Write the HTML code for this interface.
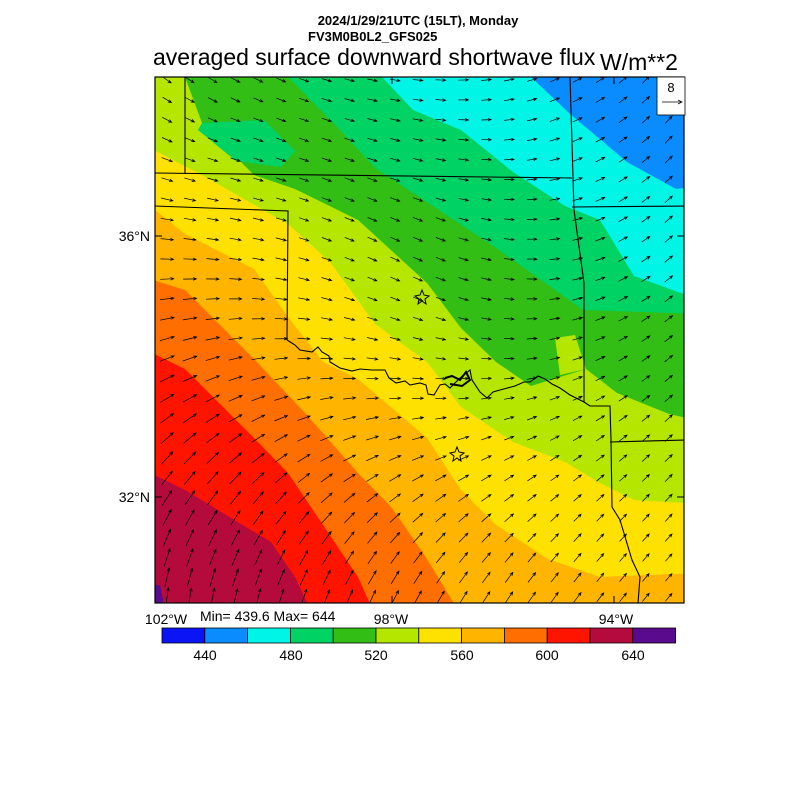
<!DOCTYPE html>
<html><head><meta charset="utf-8"><style>
body{margin:0;background:#fff;}
svg{display:block;font-family:"Liberation Sans",sans-serif;}
</style></head><body>
<svg id="s" width="800" height="800" viewBox="0 0 800 800" xmlns="http://www.w3.org/2000/svg">
<defs><clipPath id="c"><rect x="155" y="77" width="529" height="526"/></clipPath></defs>
<rect width="800" height="800" fill="#fff"/>
<g clip-path="url(#c)">
<rect x="150" y="70" width="540" height="540" fill="#b40a3c"/>
<polygon fill="#5a0a8c" points="150,585 160,585 163,600 162,610 150,610"/>
<polygon fill="#ff1400" points="150,473 185,490 236,521 271,542 295,577 313,615 700,615 700,70 150,70"/>
<polygon fill="#ff6e00" points="150,352 185,369 254,438 288,473 323,525 358,577 375,615 700,615 700,70 150,70"/>
<polygon fill="#ffb400" points="150,279 185,290 219,324 254,359 306,414 358,473 392,508 427,559 461,615 700,615 700,70 150,70"/>
<polygon fill="#ffe100" points="150,206 185,234 254,269 288,317 323,362 358,379 427,438 461,490 496,525 548,559 600,577 700,573 700,70 150,70"/>
<polygon fill="#b4e600" points="150,148 202,175 288,224 330,262 375,324 427,362 461,407 513,442 565,462 600,483 634,500 700,504 700,70 150,70"/>
<polygon fill="#32be14" points="185,70 185,77 202,123 254,175 295,189 358,220 427,283 461,328 496,362 531,386 586,369 617,393 669,414 700,421 700,70"/>
<polygon fill="#b4e600" points="555,338 575,335 586,369 560,375"/>
<polygon fill="#00d264" points="288,70 288,77 340,130 375,168 392,179 496,248 583,310 700,314 700,70"/>
<polygon fill="#00d264" points="202,123 264,120 295,151 281,167 236,161 198,130"/>
<polygon fill="#00f5e6" points="382,70 382,77 413,110 461,130 513,172 565,206 600,220 634,276 700,300 700,70"/>
<polygon fill="#0a8cff" points="531,70 531,77 569,113 627,162 676,189 700,186 700,70"/>
<g id="arr" stroke="#000" stroke-width="0.7" fill="none"></g>
<g stroke="#000" stroke-width="1.1" fill="none">
<polyline points="185,77 185,174"/>
<polyline points="155,173 572,178"/>
<polyline points="570,77 574,210 584,283 584,402"/>
<polyline points="572,207 686,206"/>
<polyline points="155,206 288,211 287,340"/>
<polyline points="287,340 295,345 300,350 312,352 318,347 322,352 329,356 330,362 340,368 352,371 360,369 372,370 385,370 389,378 396,383 405,381 410,385 420,383 426,385 428,394 434,395 440,385 445,384 450,388 460,378 470,370 472,380 480,392 487,398 493,392 500,390 515,386 524,382 530,382 538,376 545,379 552,384 560,388 570,395 584,402 590,406 610,406 611,440 612,507 620,520 626,540 632,560 640,577 638,603"/>
<polyline points="610,442 686,440" />
<polyline points="445,378 452,376 460,380 466,372 470,380 462,386 450,384" stroke-width="2"/>
</g>
<polygon points="422,290 424,295 429,296 425,299 426,304 422,301 418,304 419,299 415,296 420,295" fill="none" stroke="#000" stroke-width="1"/>
<polygon points="457,447 459,452 464,453 460,456 461,461 457,458 453,461 454,456 450,453 455,452" fill="none" stroke="#000" stroke-width="1"/>
</g>
<rect x="155" y="77" width="529" height="526" fill="none" stroke="#000" stroke-width="1.2"/>
<g stroke="#000" stroke-width="1">
<line x1="155" y1="236" x2="162" y2="236"/><line x1="155" y1="497" x2="162" y2="497"/>
<line x1="684" y1="236" x2="677" y2="236"/><line x1="684" y1="497" x2="677" y2="497"/>
<line x1="392" y1="603" x2="392" y2="596"/><line x1="614" y1="603" x2="614" y2="596"/>
<line x1="392" y1="77" x2="392" y2="84"/><line x1="614" y1="77" x2="614" y2="84"/>
</g>
<rect x="657" y="77" width="28" height="38" fill="#fff" stroke="#000" stroke-width="0.8"/>
<text x="671" y="92" font-size="13" text-anchor="middle">8</text>
<line x1="662" y1="102" x2="682" y2="102" stroke="#000" stroke-width="0.7"/>
<polyline points="678,100 682,102 678,104" fill="none" stroke="#000" stroke-width="0.7"/>
<text x="418" y="25" font-size="13" font-weight="bold" text-anchor="middle">2024/1/29/21UTC (15LT), Monday</text>
<text x="308" y="41" font-size="13" font-weight="bold">FV3M0B0L2_GFS025</text>
<text x="153" y="65" font-size="23">averaged surface downward shortwave flux</text>
<text x="600" y="70" font-size="23">W/m**2</text>
<text x="150" y="241" font-size="14" text-anchor="end">36°N</text>
<text x="150" y="502" font-size="14" text-anchor="end">32°N</text>
<text x="166" y="624" font-size="14" text-anchor="middle">102°W</text>
<text x="391" y="624" font-size="14" text-anchor="middle">98°W</text>
<text x="616" y="624" font-size="14" text-anchor="middle">94°W</text>
<text x="200" y="621" font-size="14">Min= 439.6 Max= 644</text>
<g id="cb" stroke="#000" stroke-width="0.8"></g>
<g font-size="14" text-anchor="middle">
<text x="205" y="660">440</text><text x="291" y="660">480</text><text x="376" y="660">520</text>
<text x="462" y="660">560</text><text x="547" y="660">600</text><text x="633" y="660">640</text>
</g>
</svg>
<script>
var ns="http://www.w3.org/2000/svg";
var cols=["#0a14f5","#0a8cff","#00f5e6","#00d264","#32be14","#b4e600","#ffe100","#ffb400","#ff6e00","#ff1400","#b40a3c","#5a0a8c"];
var cb=document.getElementById("cb");
for(var i=0;i<12;i++){var r=document.createElementNS(ns,"rect");r.setAttribute("x",162+i*42.8);r.setAttribute("y",628);r.setAttribute("width",42.8);r.setAttribute("height",15);r.setAttribute("fill",cols[i]);cb.appendChild(r);}
var g=document.getElementById("arr"),d="";
for(var y=80;y<603;y+=19.9){for(var x=167;x<684;x+=22.8){
var t=(x-155)/528,s=(y-77)/526;
var a=35*(1-t)*(1-s)-55*t*(1-s)-85*(1-t)*s-50*t*s+55*Math.exp(-((x-430)*(x-430)+(y-300)*(y-300))/(200*200));
var L=10+10*Math.max(0,s-t);
var r=a*Math.PI/180,dx=Math.cos(r)*L,dy=Math.sin(r)*L;
var x0=x-dx/2,y0=y-dy/2,x1=x+dx/2,y1=y+dy/2;
var h=3.5,b1=r+Math.PI-0.4,b2=r+Math.PI+0.4;
d+="M"+x0.toFixed(1)+","+y0.toFixed(1)+"L"+x1.toFixed(1)+","+y1.toFixed(1)+"M"+(x1+Math.cos(b1)*h).toFixed(1)+","+(y1+Math.sin(b1)*h).toFixed(1)+"L"+x1.toFixed(1)+","+y1.toFixed(1)+"L"+(x1+Math.cos(b2)*h).toFixed(1)+","+(y1+Math.sin(b2)*h).toFixed(1);
}}
var p=document.createElementNS(ns,"path");p.setAttribute("d",d);g.appendChild(p);
</script>
</body></html>
